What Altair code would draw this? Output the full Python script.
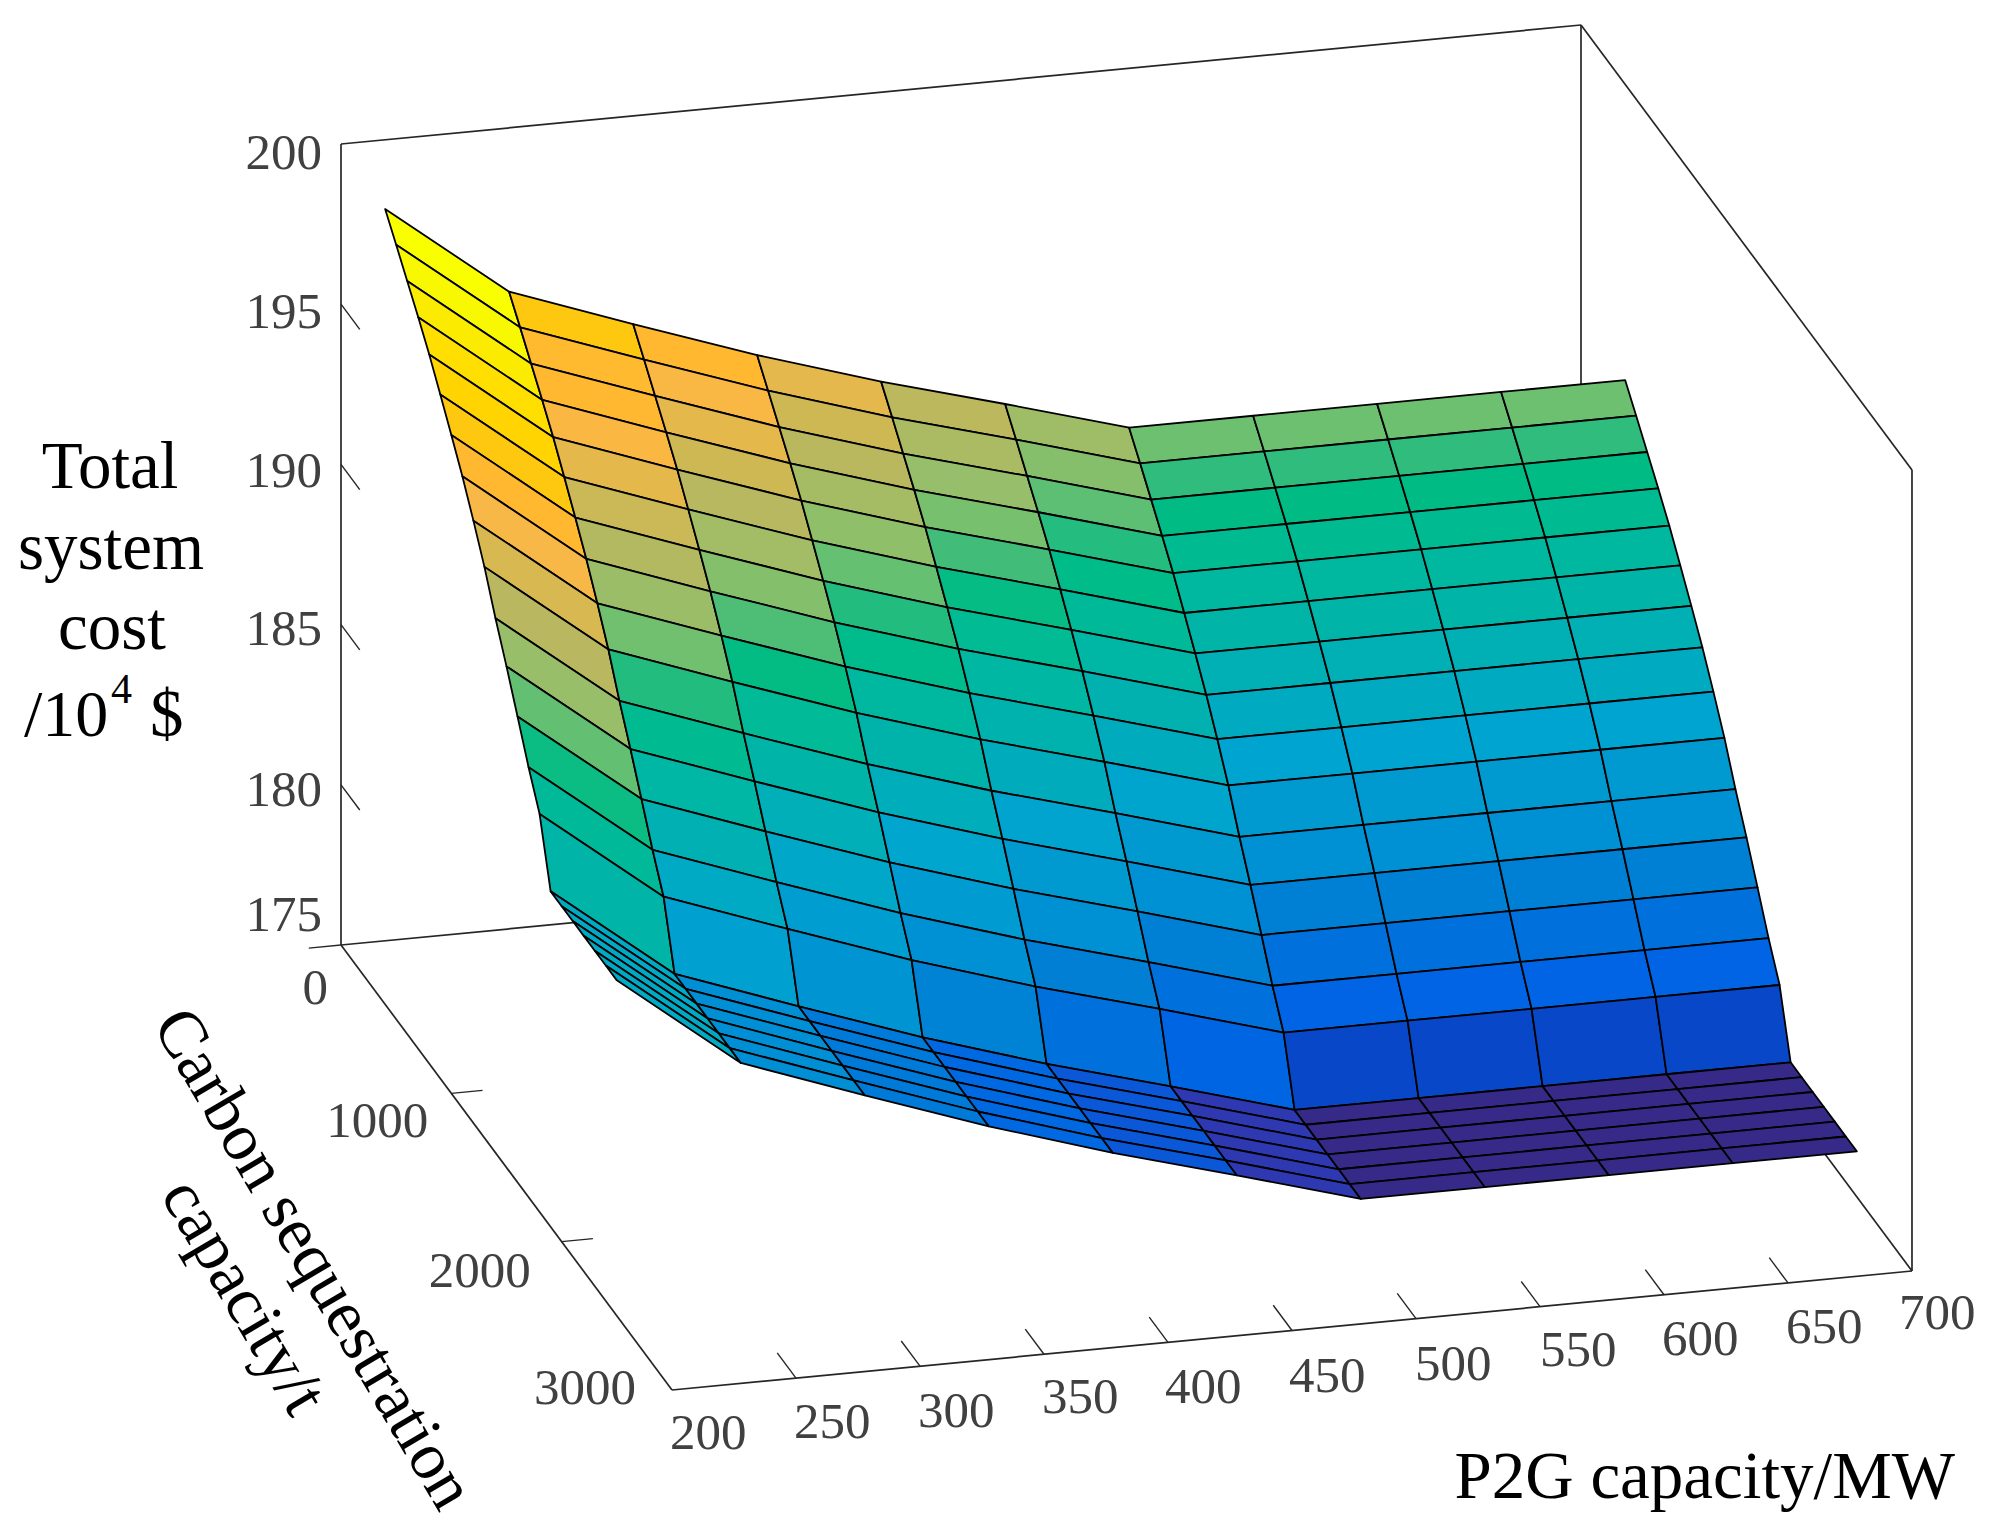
import altair as alt
import pandas as pd

# --- values ---
p2g = [200, 250, 300, 350, 400, 450, 500, 550, 600, 650, 700]
carbon = [400, 500, 600, 700, 800, 900, 1000, 1100, 1200, 1300, 1400, 1500,
          1600, 1700, 1800, 1900, 2000, 2100, 2200, 2300, 2400, 2500]
cost = [
    [199.82, 196.87, 195.49, 194.15, 192.95, 191.88, 190.77, 190.77, 190.77, 190.77, 190.77],
    [199.17, 196.22, 194.84, 193.50, 192.30, 191.23, 190.12, 190.12, 190.12, 190.12, 190.12],
    [198.50, 195.55, 194.17, 192.83, 191.63, 190.56, 189.45, 189.45, 189.45, 189.45, 189.45],
    [197.83, 194.88, 193.50, 192.16, 190.96, 189.89, 188.78, 188.78, 188.78, 188.78, 188.78],
    [197.13, 194.18, 192.80, 191.46, 190.26, 189.19, 188.08, 188.08, 188.08, 188.08, 188.08],
    [196.35, 193.40, 192.02, 190.68, 189.48, 188.41, 187.30, 187.30, 187.30, 187.30, 187.30],
    [195.55, 192.60, 191.22, 189.88, 188.68, 187.61, 186.50, 186.50, 186.50, 186.50, 186.50],
    [194.72, 191.77, 190.39, 189.05, 187.85, 186.78, 185.67, 185.67, 185.67, 185.67, 185.67],
    [193.80, 190.85, 189.47, 188.13, 186.93, 185.86, 184.75, 184.75, 184.75, 184.75, 184.75],
    [192.82, 189.87, 188.49, 187.15, 185.95, 184.88, 183.77, 183.77, 183.77, 183.77, 183.77],
    [191.68, 188.73, 187.35, 186.01, 184.81, 183.74, 182.63, 182.63, 182.63, 182.63, 182.63],
    [190.64, 187.69, 186.31, 184.97, 183.77, 182.70, 181.59, 181.59, 181.59, 181.59, 181.59],
    [189.54, 186.59, 185.21, 183.87, 182.67, 181.60, 180.49, 180.49, 180.49, 180.49, 180.49],
    [188.42, 185.47, 184.09, 182.75, 181.55, 180.48, 179.37, 179.37, 179.37, 179.37, 179.37],
    [187.42, 184.47, 183.09, 181.75, 180.55, 179.48, 178.37, 178.37, 178.37, 178.37, 178.37],
    [185.47, 182.52, 181.14, 179.80, 178.60, 177.53, 176.42, 176.42, 176.42, 176.42, 176.42],
    [185.47, 182.52, 181.14, 179.80, 178.60, 177.53, 176.42, 176.42, 176.42, 176.42, 176.42],
    [185.47, 182.52, 181.14, 179.80, 178.60, 177.53, 176.42, 176.42, 176.42, 176.42, 176.42],
    [185.47, 182.52, 181.14, 179.80, 178.60, 177.53, 176.42, 176.42, 176.42, 176.42, 176.42],
    [185.47, 182.52, 181.14, 179.80, 178.60, 177.53, 176.42, 176.42, 176.42, 176.42, 176.42],
    [185.47, 182.52, 181.14, 179.80, 178.60, 177.53, 176.42, 176.42, 176.42, 176.42, 176.42],
    [185.47, 182.52, 181.14, 179.80, 178.60, 177.53, 176.42, 176.42, 176.42, 176.42, 176.42],
]
x_ticks = [200, 250, 300, 350, 400, 450, 500, 550, 600, 650, 700]
y_ticks = [0, 1000, 2000, 3000]
z_ticks = [175, 180, 185, 190, 195, 200]

color_z = [176.42, 177.53, 178.37, 178.6, 179.37, 180.49, 181.59, 182.63, 183.77, 184.76,
           185.67, 186.5, 187.3, 188.1, 188.8, 189.45, 190.1, 190.77, 191.65, 192.8,
           193.8, 194.7, 195.5, 196.25, 196.35, 196.87, 197.13, 197.83, 198.5, 199.17, 199.82]
color_hex = ["#352a88", "#2e38b0", "#0848c8", "#0a58d8", "#0064e4", "#0070dc", "#0080d4",
             "#0090d4", "#009ad0", "#00a4d0", "#00aac0", "#00b0b4", "#00b4a8", "#00b8a0",
             "#00bb90", "#00bc84", "#2dbc7c", "#6cc070", "#98be6a", "#b8b860", "#d8b850",
             "#f8b848", "#ffb830", "#ffba30", "#ffc810", "#ffc810", "#ffd400", "#ffdf00",
             "#fbeb00", "#f8f800", "#faff00"]


# --- MATLAB-style orthographic view of the three data axes ---
def view(x, y, z):
    return [341 + 2.48 * (x - 200) + 0.11033 * y,
            945 - 0.238 * (x - 200) + 0.14833 * y - 32.04 * (z - 175)]


def collection(features):
    return alt.Data(values={"type": "FeatureCollection", "features": features},
                    format=alt.DataFormat(property="features", type="json"))


def line(*pts):
    return {"type": "Feature", "properties": {},
            "geometry": {"type": "LineString", "coordinates": [view(*p) for p in pts]}}


proj = dict(type="identity", scale=1, translate=[-8, -8])

# surface cells, back to front, each coloured by its first corner
cells = []
for i in range(len(carbon) - 1):
    for j in range(len(p2g) - 1):
        ring = [view(p2g[j], carbon[i], cost[i][j]),
                view(p2g[j + 1], carbon[i], cost[i][j + 1]),
                view(p2g[j + 1], carbon[i + 1], cost[i + 1][j + 1]),
                view(p2g[j], carbon[i + 1], cost[i + 1][j]),
                view(p2g[j], carbon[i], cost[i][j])]
        cells.append({"type": "Feature", "properties": {"z": cost[i][j]},
                      "geometry": {"type": "Polygon", "coordinates": [ring]}})

surface = alt.Chart(collection(cells)).mark_geoshape(
    stroke="#000000", strokeWidth=1.8, strokeJoin="round"
).encode(
    color=alt.Color("properties.z:Q", legend=None,
                    scale=alt.Scale(domain=color_z, range=color_hex, clamp=True))
).project(**proj)

box_lines = [
    line((200, 0, 175), (200, 0, 200)),
    line((200, 0, 200), (700, 0, 200)),
    line((700, 0, 200), (700, 3000, 200)),
    line((700, 0, 200), (700, 0, 175)),
    line((700, 3000, 200), (700, 3000, 175)),
    line((200, 0, 175), (700, 0, 175)),
    line((200, 0, 175), (200, 3000, 175)),
    line((200, 3000, 175), (700, 3000, 175)),
    line((700, 0, 175), (700, 3000, 175)),
]
box = alt.Chart(collection(box_lines)).mark_geoshape(
    filled=False, stroke="#262626", strokeWidth=1.7
).project(**proj)

tick_lines = []
for z in z_ticks[1:5]:
    tick_lines.append(line((200, 0, z), (200, 170, z)))
for x in x_ticks[1:-1]:
    tick_lines.append(line((x, 3000, 175), (x, 2830, 175)))
for y in y_ticks[1:-1]:
    tick_lines.append(line((200, y, 175), (212.6, y, 175)))
tick_lines.append(line((200, 0, 175), (187, 0, 175)))
ticks = alt.Chart(collection(tick_lines)).mark_geoshape(
    filled=False, stroke="#262626", strokeWidth=1.4
).project(**proj)

# tick labels
z_label_dy = [-14, 21, 20, 23, 24, 25]
y_label_dx = [-13, -23, -31, -36]
y_label_dy = [59, 44, 45, 14]
x_label_dx = [-2, -2, -2, -2, -3, -3, -1, 0, -2, -2, -13]
x_label_dy = [59, 60, 61, 59, 61, 62, 61, 59, 60, 60, 58]

right_rows = []
for z, d in zip(z_ticks, z_label_dy):
    p = view(200, 0, z)
    right_rows.append({"lon": 322, "lat": p[1] + d, "t": str(z)})
for y, dx, dy in zip(y_ticks, y_label_dx, y_label_dy):
    p = view(200, y, 175)
    right_rows.append({"lon": p[0] + dx, "lat": p[1] + dy, "t": str(y)})
left_rows = []
for x, dx, dy in zip(x_ticks, x_label_dx, x_label_dy):
    p = view(x, 3000, 175)
    left_rows.append({"lon": p[0] + dx, "lat": p[1] + dy, "t": str(x)})

SERIF = "Liberation Serif"
tick_style = dict(font=SERIF, fontSize=51, color="#404040", baseline="alphabetic")
enc = dict(longitude="lon:Q", latitude="lat:Q", text="t:N")
labels_r = alt.Chart(pd.DataFrame(right_rows)).mark_text(align="right", **tick_style).encode(**enc).project(**proj)
labels_l = alt.Chart(pd.DataFrame(left_rows)).mark_text(align="left", **tick_style).encode(**enc).project(**proj)

# axis titles
title_rows = [
    {"lon": 110, "lat": 488, "t": "Total"},
    {"lon": 111, "lat": 569, "t": "system"},
    {"lon": 112, "lat": 649, "t": "cost"},
]
z_title = alt.Chart(pd.DataFrame(title_rows)).mark_text(
    font=SERIF, fontSize=67, color="#000000", align="center", baseline="alphabetic"
).encode(**enc).project(**proj)
unit_a = alt.Chart(pd.DataFrame([{"lon": 24, "lat": 736, "t": "/10"}])).mark_text(
    font=SERIF, fontSize=66, color="#000000", align="left", baseline="alphabetic"
).encode(**enc).project(**proj)
unit_b = alt.Chart(pd.DataFrame([{"lon": 111, "lat": 703, "t": "4"}])).mark_text(
    font=SERIF, fontSize=42, color="#000000", align="left", baseline="alphabetic"
).encode(**enc).project(**proj)
unit_c = alt.Chart(pd.DataFrame([{"lon": 150, "lat": 736, "t": "$"}])).mark_text(
    font=SERIF, fontSize=67, color="#000000", align="left", baseline="alphabetic"
).encode(**enc).project(**proj)
x_title = alt.Chart(pd.DataFrame([{"lon": 1955, "lat": 1498, "t": "P2G capacity/MW"}])).mark_text(
    font=SERIF, fontSize=67, color="#000000", align="right", baseline="alphabetic"
).encode(**enc).project(**proj)
y_title = alt.Chart(pd.DataFrame([
    {"lon": 313, "lat": 1259, "t": "Carbon sequestration"},
    {"lon": 243, "lat": 1297, "t": "capacity/t"},
])).mark_text(
    font=SERIF, fontSize=67, color="#000000", align="center", baseline="middle", angle=59.5
).encode(**enc).project(**proj)

chart = alt.layer(
    box, ticks, surface, labels_r, labels_l, z_title, unit_a, unit_b, unit_c, x_title, y_title
).properties(
    width=1978, height=1515, padding=0, background="#ffffff",
    autosize=alt.AutoSizeParams(type="none")
).configure_view(stroke=None)

chart.save("out.html", embed_options={"renderer": "svg", "actions": False})
